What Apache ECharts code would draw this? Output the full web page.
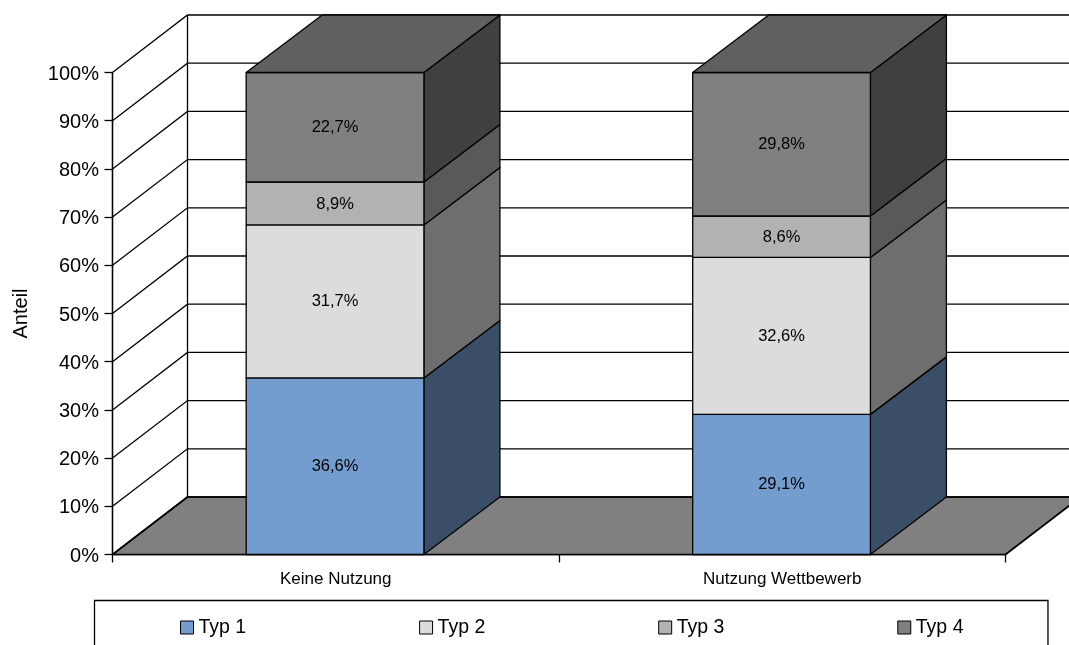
<!DOCTYPE html>
<html><head><meta charset="utf-8">
<style>html,body{margin:0;padding:0;background:#fff;overflow:hidden}#c{width:1069px;height:645px}</style>
<script src="https://cdn.jsdelivr.net/npm/echarts@6/dist/echarts.min.js"></script>
</head><body><div id="c"></div>
<script>
const categories = ['Keine Nutzung', 'Nutzung Wettbewerb'];
const seriesNames = ['Typ 1', 'Typ 2', 'Typ 3', 'Typ 4'];
const typ1 = [36.6, 29.1];
const typ2 = [31.7, 32.6];
const typ3 = [8.9, 8.6];
const typ4 = [22.7, 29.8];
const yTicks = [0, 10, 20, 30, 40, 50, 60, 70, 80, 90, 100];
const frontColors = ['#739CCF', '#DCDCDC', '#B2B2B2', '#808080'];
const sideColors = ['#3A4E68', '#6E6E6E', '#595959', '#404040'];
const topColor = '#606060';
const floorColor = '#808080';
const DX = 75, DY = -57.5, BAR_DX = 76, BAR_SHIFT = -0.7, BAR_W = 0.398;
const FONT = '"Liberation Sans", Arial, sans-serif';
const LW = 1.3;

const values = [typ1, typ2, typ3, typ4];
const fmt = v => v.toFixed(1).replace('.', ',') + '%';
const lineStyle = { stroke: '#000', lineWidth: LW, fill: null };

function poly(points, fill, lw) {
  return { type: 'polygon', shape: { points }, style: { fill, stroke: '#000', lineWidth: lw || LW, lineJoin: 'round' } };
}
function wallItem(params, api) {
  const v = api.value(0);
  const cs = params.coordSys;
  const y = api.coord([0, v])[1];
  const x0 = cs.x, x1 = cs.x + cs.width;
  return { type: 'polyline', shape: { points: [[x0, y], [x0 + DX, y + DY], [x1 + DX, y + DY]] }, style: lineStyle };
}
function planeItem(params, api) {
  const cs = params.coordSys;
  const y0 = api.coord([0, 0])[1], y1 = api.coord([0, 100])[1];
  const x0 = cs.x, x1 = cs.x + cs.width;
  return { type: 'group', children: [
    poly([[x0, y0], [x0 + DX, y0 + DY], [x1 + DX, y0 + DY], [x1, y0]], floorColor, 1.7),
    { type: 'line', shape: { x1: x0 + DX, y1: y0 + DY, x2: x0 + DX, y2: y1 + DY }, style: lineStyle },
    { type: 'line', shape: { x1: x0, y1: y0, x2: x0, y2: y1 }, style: lineStyle }
  ]};
}
function barItem(sIdx) {
  return function (params, api) {
    const c = api.value(0), a = api.value(1), b = api.value(2), raw = api.value(3);
    const centre = api.coord([c, 0])[0] + BAR_SHIFT;
    const w = api.size([1, 0])[0] * BAR_W;
    const xl = centre - w / 2, xr = centre + w / 2;
    const yb = api.coord([c, a])[1], yt = api.coord([c, b])[1];
    const children = [
      poly([[xr, yb], [xr + BAR_DX, yb + DY], [xr + BAR_DX, yt + DY], [xr, yt]], sideColors[sIdx]),
      poly([[xl, yb], [xr, yb], [xr, yt], [xl, yt]], frontColors[sIdx]),
      { type: 'text', style: { text: fmt(raw), x: centre, y: (yb + yt) / 2 + 0.5, align: 'center', verticalAlign: 'middle',
        font: '16.5px ' + FONT, fill: '#000' } }
    ];
    if (sIdx === values.length - 1) {
      children.push(poly([[xl, yt], [xr, yt], [xr + BAR_DX, yt + DY], [xl + BAR_DX, yt + DY]], topColor));
    }
    return { type: 'group', children };
  };
}
const barSeries = seriesNames.map((name, s) => ({
  type: 'custom', name, z: 5 + s, renderItem: barItem(s), clip: false,
  encode: { x: 0, y: [1, 2] },
  itemStyle: { color: frontColors[s] },
  data: categories.map((_, c) => {
    const total = values.reduce((t, arr) => t + arr[c], 0);
    let below = 0;
    for (let i = 0; i < s; i++) below += values[i][c];
    return [c, below / total * 100, (below + values[s][c]) / total * 100, values[s][c]];
  })
}));

const chart = echarts.init(document.getElementById('c'), null, { renderer: 'canvas' });
chart.setOption({
  animation: false,
  backgroundColor: '#fff',
  grid: { left: 112.5, right: 63.5, top: 72.5, bottom: 90.5, containLabel: false },
  xAxis: {
    type: 'category', data: categories,
    axisLine: { show: true, lineStyle: { color: '#000', width: LW } },
    axisTick: { show: true, length: 8, lineStyle: { color: '#000', width: LW } },
    axisLabel: { color: '#000', fontFamily: FONT, fontSize: 17, margin: 16 },
    splitLine: { show: false }
  },
  yAxis: {
    type: 'value', min: 0, max: 100, interval: 10,
    name: 'Anteil', nameLocation: 'middle', nameGap: 81, nameRotate: 90,
    nameTextStyle: { color: '#000', fontFamily: FONT, fontSize: 20 },
    axisLine: { show: true, lineStyle: { color: '#000', width: LW } },
    axisTick: { show: true, length: 8, lineStyle: { color: '#000', width: LW } },
    axisLabel: { color: '#000', fontFamily: FONT, fontSize: 20, margin: 13.5, formatter: '{value}%', verticalAlign: 'top', lineHeight: 3 },
    splitLine: { show: false }
  },
  legend: {
    left: 94.5, top: 600.5,
    padding: [17, 84.5, 30, 85.5], itemGap: 172.9, itemWidth: 13, itemHeight: 13,
    borderColor: '#000', borderWidth: LW, backgroundColor: '#fff',
    textStyle: { color: '#000', fontFamily: FONT, fontSize: 19.5, padding: [2, 0, 0, 0] },
    data: seriesNames.map((name, i) => ({
      name, icon: 'rect',
      itemStyle: { color: frontColors[i], borderColor: '#000', borderWidth: 1 }
    }))
  },
  series: [
    { type: 'custom', name: 'Wände', z: 1, renderItem: planeItem, clip: false, silent: true,
      encode: { y: 0 }, data: [[0]] },
    { type: 'custom', name: 'Gitter', z: 2, renderItem: wallItem, clip: false, silent: true,
      encode: { y: 0 }, data: yTicks.map(t => [t]) },
    ...barSeries
  ]
});
</script></body></html>
